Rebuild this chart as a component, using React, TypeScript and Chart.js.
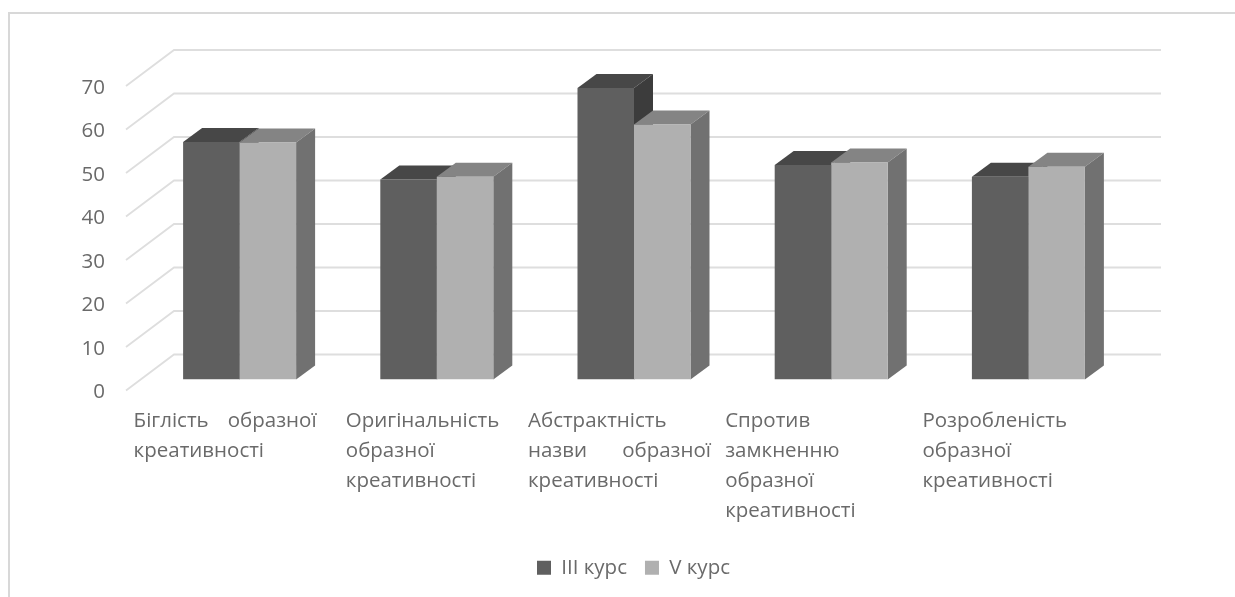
import React, { useEffect, useRef } from "react";
import { Chart, registerables } from "chart.js";

Chart.register(...registerables);

const categoryLabels: string[][] = [
  ["Біглість образної", "креативності"],
  ["Оригінальність", "образної", "креативності"],
  ["Абстрактність", "назви образної", "креативності"],
  ["Спротив", "замкненню", "образної", "креативності"],
  ["Розробленість", "образної", "креативності"],
];
const seriesNames = ["III курс", "V курс"];
const course3Values = [54.6, 46.0, 67.0, 49.3, 46.6];
const course5Values = [54.5, 46.6, 58.6, 49.9, 48.9];
const frontColors = ["#5f5f5f", "#b0b0b0"];
const topColors = ["#474747", "#848484"];
const sideColors = ["#3c3c3c", "#717171"];

const FONT = '"Open Sans"';
const TEXT = "#6a6a6a";
const GRID = "#dedede";
const FRAME = "#d8d8d8";
const DEPTH_X = 19;
const DEPTH_Y = 14;
const JUSTIFY_WIDTH = 183;

const poly = (ctx: CanvasRenderingContext2D, pts: number[][], fill: string) => {
  ctx.beginPath();
  pts.forEach(([x, y], i) => (i ? ctx.lineTo(x, y) : ctx.moveTo(x, y)));
  ctx.closePath();
  ctx.fillStyle = fill;
  ctx.fill();
};

const scene3d = {
  id: "scene3d",
  afterLayout(chart: any) {
    // centre the legend under the plot as the reference does
    chart.legend.left += 70;
    chart.legend.right += 70;
  },
  beforeDatasetsDraw(chart: any) {
    const { ctx, scales, width, height } = chart;
    const y = scales.y;
    const x = scales.x;
    ctx.save();
    ctx.strokeStyle = FRAME;
    ctx.lineWidth = 2;
    ctx.beginPath();
    ctx.moveTo(9, height);
    ctx.lineTo(9, 13);
    ctx.lineTo(width, 13);
    ctx.stroke();
    ctx.strokeStyle = GRID;
    ctx.lineWidth = 1.8;
    y.ticks.forEach((t: any) => {
      const py = y.getPixelForValue(t.value);
      ctx.beginPath();
      ctx.moveTo(x.left - 15, py + 11);
      ctx.lineTo(x.left + 33, py - 25);
      ctx.lineTo(x.right + 34, py - 25);
      ctx.stroke();
    });
    const a = chart.getDatasetMeta(0).data;
    const b = chart.getDatasetMeta(1).data;
    a.forEach((_: any, i: number) => {
      [a[i], b[i]].forEach((bar: any, s: number) => {
        const { x: cx, y: top, base, width: w } = bar.getProps(["x", "y", "base", "width"], true);
        const l = cx - w / 2;
        const r = cx + w / 2;
        poly(ctx, [[l, top], [l + DEPTH_X, top - DEPTH_Y], [r + DEPTH_X, top - DEPTH_Y], [r, top]], topColors[s]);
        poly(ctx, [[r, top], [r + DEPTH_X, top - DEPTH_Y], [r + DEPTH_X, base - DEPTH_Y], [r, base]], sideColors[s]);
      });
    });
    ctx.restore();
  },
  afterDatasetsDraw(chart: any) {
    const { ctx, scales } = chart;
    const x = scales.x;
    ctx.save();
    ctx.font = `20.5px ${FONT}`;
    ctx.fillStyle = TEXT;
    ctx.textBaseline = "middle";
    ctx.textAlign = "left";
    x.ticks.forEach((t: any, i: number) => {
      const lines: string[] = t.label;
      const left = x.getPixelForTick(i) + (i === 1 ? -91 : -106);
      lines.forEach((line, j) => {
        ctx.wordSpacing = "0px";
        if (line.includes(" ")) {
          const extra = JUSTIFY_WIDTH - ctx.measureText(line).width;
          ctx.wordSpacing = `${extra}px`;
        }
        ctx.fillText(line, left, x.top + 42 + j * 30);
      });
    });
    ctx.restore();
  },
};

export default function App() {
  const ref = useRef<HTMLCanvasElement>(null);
  useEffect(() => {
    const chart = new Chart(ref.current!, {
      type: "bar",
      data: {
        labels: categoryLabels as any,
        datasets: [
          { label: seriesNames[0], data: course3Values, backgroundColor: frontColors[0] },
          { label: seriesNames[1], data: course5Values, backgroundColor: frontColors[1] },
        ],
      },
      options: {
        responsive: false,
        animation: false,
        layout: { padding: { top: 75, right: 108, bottom: 9, left: 0 } },
        datasets: { bar: { barPercentage: 1, categoryPercentage: 0.573 } },
        scales: {
          x: {
            grid: { display: false },
            border: { display: false },
            ticks: { display: false },
            afterFit: (s: any) => { s.height = 160; },
          },
          y: {
            min: 0,
            max: 70,
            grid: { display: false, drawTicks: false },
            border: { display: false },
            ticks: { stepSize: 10, padding: 36, labelOffset: 13, color: TEXT, font: { family: FONT, size: 20.5 } },
            afterFit: (s: any) => { s.width = 141; },
          },
        },
        plugins: {
          tooltip: { enabled: false },
          legend: {
            position: "bottom",
            labels: { boxWidth: 14, boxHeight: 14, padding: 18, color: TEXT, font: { family: FONT, size: 20.5 } },
          },
        },
      },
      plugins: [scene3d],
    } as any);
    return () => chart.destroy();
  }, []);
  return (
    <div style={{ position: "fixed", left: 0, top: 0, width: 1235, height: 597, background: "#fff" }}>
      <canvas ref={ref} width={1235} height={597} style={{ display: "block", filter: "blur(0.5px)" }} />
    </div>
  );
}
